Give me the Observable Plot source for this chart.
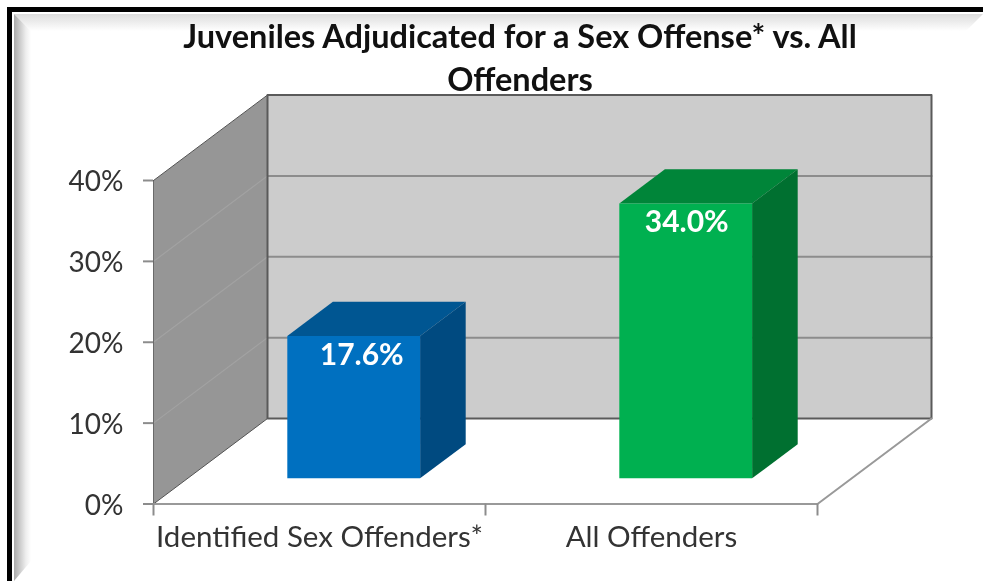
<!DOCTYPE html>
<html>
<head>
<meta charset="utf-8">
<script src="https://cdn.jsdelivr.net/npm/d3@7"></script>
<script src="https://cdn.jsdelivr.net/npm/@observablehq/plot@0.6"></script>
<style>
  html, body { margin: 0; padding: 0; background: #fff; }
  #page { position: relative; width: 983px; height: 581px; overflow: hidden; font-family: Lato, sans-serif; filter: blur(0.4px); }
  .edge { position: absolute; background: #000; }
  .bevel { position: absolute; }
  #chart { position: absolute; left: 0; top: 0; }
  #title { position: absolute; left: 170px; width: 700px; top: 14px; text-align: center; font: 700 32.5px/43px Lato, sans-serif; color: #111; }
</style>
</head>
<body>
<div id="page">
  <div class="bevel" style="left:14px;top:14px;width:969px;height:17px;background:linear-gradient(#dcdcdc,#fff);clip-path:polygon(0 0,100% 0,calc(100% - 17px) 100%,17px 100%)"></div>
  <div class="bevel" style="left:14px;top:14px;width:17px;height:567px;background:linear-gradient(90deg,#aaa,#eee 70%,#fff);clip-path:polygon(0 0,100% 17px,100% calc(100% - 20px),0 100%)"></div>
  <div class="edge" style="left:7px;top:7px;width:976px;height:5px"></div>
  <div class="edge" style="left:7px;top:7px;width:5px;height:574px"></div>
  <div id="chart"></div>
  <div id="title">Juveniles Adjudicated for a Sex Offense* vs. All Offenders</div>
</div>
<script>
const categories = ["Identified Sex Offenders*", "All Offenders"];
const values = [17.6, 34.0];
const labels = ["17.6%", "34.0%"];
const frontColors = ["#0070c0", "#00b050"];
const topColors = ["#005692", "#008539"];
const sideColors = ["#004a80", "#007030"];
const labelShift = [8, 1];
const yTicks = [0, 10, 20, 30, 40];
const yMax = 40;
const wallTicks = [10, 20, 30];

// oblique projection: depth 0 is the front of the floor, depth 1 the back wall
const depthX = 0.3434, depthY = 10.57;
const pt = (cat, pct, z) => ({x: cat + z * depthX, y: pct + z * depthY});
const poly = (pts) => [...pts, pts[0]];
const face = (pts, fill, extra = {}) =>
  Plot.line(poly(pts), {x: "x", y: "y", fill, stroke: "none", curve: "linear", ...extra});
const edge = (pts, stroke, strokeWidth) =>
  Plot.line(pts, {x: "x", y: "y", stroke, strokeWidth, curve: "linear"});

const n = categories.length;
const marks = [
  // walls
  face([pt(0, 0, 1), pt(n, 0, 1), pt(n, yMax, 1), pt(0, yMax, 1)], "#cccccc"),
  face([pt(0, 0, 0), pt(0, 0, 1), pt(0, yMax, 1), pt(0, yMax, 0)], "#969696"),
  ...wallTicks.map(t => edge([pt(0, t, 1), pt(n, t, 1)], "#8c8c8c", 2)),
  ...wallTicks.map(t => edge([pt(0, t, 0), pt(0, t, 1)], "#a2a2a2", 1.2)),
  edge([pt(0, 0, 0), pt(0, yMax, 0)], "#6a6a6a", 1),
  edge([pt(0, 0, 0), pt(0, 0, 1)], "#555555", 1),
  edge([pt(0, yMax, 0), pt(0, yMax, 1)], "#555555", 1),
  edge([pt(0, 0, 1), pt(0, yMax, 1), pt(n, yMax, 1), pt(n, 0, 1), pt(0, 0, 1)], "#5a5a5a", 2),
  // floor
  edge([pt(0, 0, 0), pt(n, 0, 0), pt(n, 0, 1)], "#999999", 2),
  // bars
  ...categories.flatMap((c, i) => {
    const a = i + 0.3, b = i + 0.7, v = values[i], z0 = 0.3, z1 = 0.7;
    return [
      face([pt(a, v, z0), pt(a, v, z1), pt(b, v, z1), pt(b, v, z0)], topColors[i]),
      face([pt(b, 0, z0), pt(b, 0, z1), pt(b, v, z1), pt(b, v, z0)], sideColors[i]),
      face([pt(a, 0, z0), pt(b, 0, z0), pt(b, v, z0), pt(a, v, z0)], frontColors[i]),
      Plot.text([labels[i]], {
        x: pt(i + 0.5, v, z0).x, y: pt(i + 0.5, v, z0).y, text: d => d,
        dx: labelShift[i], dy: 19,
        fill: "#fff", fontSize: 30, fontWeight: 700, fontFamily: "Lato, sans-serif"
      })
    ];
  }),
  // axes
  Plot.axisY({
    ticks: yTicks, tickSize: 10, tickFormat: () => "", label: null,
    stroke: "#8c8c8c", strokeWidth: 2, strokeOpacity: 1
  }),
  Plot.axisY({
    ticks: yTicks, tickSize: 0, tickPadding: 30, tickFormat: d => d + "%", label: null, dy: 2,
    fill: "#333", fontSize: 28, fontFamily: "Lato, sans-serif"
  }),
  Plot.axisX({
    ticks: [0, 1, 2], tickSize: 12, tickFormat: () => "", label: null,
    stroke: "#8c8c8c", strokeWidth: 2, strokeOpacity: 1
  }),
  Plot.axisX({
    ticks: categories.map((c, i) => i + 0.5), tickSize: 0, tickPadding: 22,
    tickFormat: d => categories[Math.floor(d)], label: null,
    fill: "#333", fontSize: 29.5, fontFamily: "Lato, sans-serif"
  })
];

const chart = Plot.plot({
  width: 983, height: 581,
  marginLeft: 153, marginRight: 166, marginTop: 180, marginBottom: 77.5,
  style: {background: "transparent", overflow: "visible"},
  x: {type: "linear", domain: [0, n], axis: null},
  y: {type: "linear", domain: [0, yMax], axis: null},
  marks
});
document.getElementById("chart").appendChild(chart);
</script>
</body>
</html>
